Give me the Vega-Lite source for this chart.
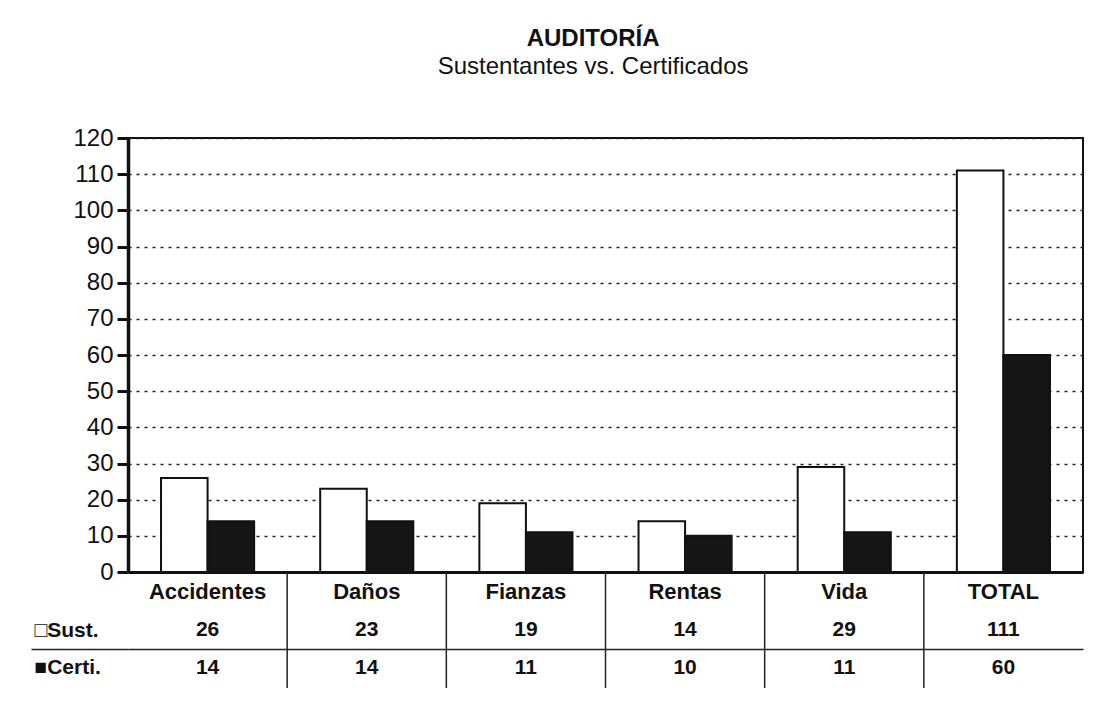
{
  "$schema": "https://vega.github.io/schema/vega-lite/v6.json",
  "padding": {"top": 27, "left": 30, "right": 8, "bottom": 8},
  "background": "white",
  "bounds": "flush",
  "title": {
    "text": "AUDITORÍA",
    "subtitle": "Sustentantes vs.  Certificados",
    "font": "Liberation Sans",
    "fontSize": 24,
    "fontWeight": "bold",
    "color": "#111",
    "subtitleFont": "Liberation Sans",
    "subtitleFontSize": 24,
    "subtitleColor": "#111",
    "subtitlePadding": 4,
    "anchor": "middle",
    "dx": 36,
    "offset": 46
  },
  "data": {
    "values": [
      {"cat": "Accidentes", "serie": "Sust.", "valor": 26},
      {"cat": "Accidentes", "serie": "Certi.", "valor": 14},
      {"cat": "Daños", "serie": "Sust.", "valor": 23},
      {"cat": "Daños", "serie": "Certi.", "valor": 14},
      {"cat": "Fianzas", "serie": "Sust.", "valor": 19},
      {"cat": "Fianzas", "serie": "Certi.", "valor": 11},
      {"cat": "Rentas", "serie": "Sust.", "valor": 14},
      {"cat": "Rentas", "serie": "Certi.", "valor": 10},
      {"cat": "Vida", "serie": "Sust.", "valor": 29},
      {"cat": "Vida", "serie": "Certi.", "valor": 11},
      {"cat": "TOTAL", "serie": "Sust.", "valor": 111},
      {"cat": "TOTAL", "serie": "Certi.", "valor": 60}
    ]
  },
  "spacing": 0,
  "vconcat": [
    {
      "width": 955,
      "height": 434,
      "view": {"stroke": "#111", "strokeWidth": 2},
      "mark": {"type": "bar", "stroke": "#111", "strokeWidth": 2},
      "encoding": {
        "x": {
          "field": "cat",
          "type": "nominal",
          "scale": {
            "domain": ["Accidentes", "Daños", "Fianzas", "Rentas", "Vida", "TOTAL"],
            "paddingInner": 0.415,
            "paddingOuter": 0.2075
          },
          "axis": {"labels": false, "ticks": false, "title": null, "domainColor": "#111", "domainWidth": 3, "minExtent": 0}
        },
        "xOffset": {
          "field": "serie",
          "type": "nominal",
          "sort": ["Sust.", "Certi."],
          "scale": {"paddingInner": 0, "paddingOuter": 0}
        },
        "y": {
          "field": "valor",
          "type": "quantitative",
          "scale": {"domain": [0, 120], "nice": false},
          "axis": {
            "values": [0, 10, 20, 30, 40, 50, 60, 70, 80, 90, 100, 110, 120],
            "title": null,
            "grid": true,
            "gridDash": [3, 5],
            "gridColor": "#222",
            "gridWidth": 1.5,
            "domainColor": "#111",
            "domainWidth": 3.5,
            "tickColor": "#111",
            "tickWidth": 3,
            "tickSize": 11,
            "labelPadding": 4,
            "labelFont": "Liberation Sans",
            "labelFontSize": 24,
            "labelColor": "#111"
          }
        },
        "color": {
          "field": "serie",
          "type": "nominal",
          "scale": {"domain": ["Sust.", "Certi."], "range": ["#ffffff", "#151515"]},
          "legend": null
        }
      }
    },
    {
      "width": 955,
      "height": 116,
      "view": {"stroke": null},
      "encoding": {
        "x": {
          "field": "cat",
          "type": "nominal",
          "scale": {
            "domain": ["Accidentes", "Daños", "Fianzas", "Rentas", "Vida", "TOTAL"],
            "paddingInner": 0,
            "paddingOuter": 0
          },
          "axis": null
        }
      },
      "layer": [
        {
          "transform": [{"filter": "datum.serie === 'Sust.' && datum.cat !== 'Accidentes'"}],
          "mark": {"type": "rule", "color": "#222", "strokeWidth": 1.5},
          "encoding": {
            "x": {"field": "cat", "type": "nominal", "bandPosition": 0}
          }
        },
        {
          "transform": [{"filter": "datum.serie === 'Sust.'"}],
          "mark": {"type": "text", "font": "Liberation Sans", "fontSize": 22, "fontWeight": "bold", "color": "#111"},
          "encoding": {
            "y": {"datum": "Cat"},
            "text": {"field": "cat"}
          }
        },
        {
          "mark": {"type": "text", "font": "Liberation Sans", "fontSize": 21, "fontWeight": "bold", "color": "#111"},
          "encoding": {
            "y": {
              "field": "serie",
              "type": "nominal",
              "scale": {"domain": ["Cat", "Sust.", "Certi."], "paddingOuter": 0.03, "paddingInner": 0},
              "axis": {
                "title": null,
                "domain": false,
                "tickBand": "extent",
                "ticks": true,
                "tickSize": 97,
                "tickColor": "#222",
                "tickWidth": 1.5,
                "tickOpacity": {"condition": {"test": "datum.value === 'Sust.'", "value": 1}, "value": 0},
                "grid": true,
                "gridColor": "#222",
                "gridWidth": 1.5,
                "gridOpacity": {"condition": {"test": "datum.value === 'Sust.'", "value": 1}, "value": 0},
                "labelExpr": "datum.value === 'Sust.' ? '□Sust.' : datum.value === 'Certi.' ? '■Certi.' : ''",
                "labelAlign": "left",
                "labelPadding": -3,
                "labelFont": "Liberation Sans",
                "labelFontSize": 21,
                "labelFontWeight": "bold",
                "labelColor": "#111"
              }
            },
            "text": {"field": "valor", "type": "quantitative"}
          }
        }
      ]
    }
  ],
  "config": {"view": {"stroke": null}}
}
